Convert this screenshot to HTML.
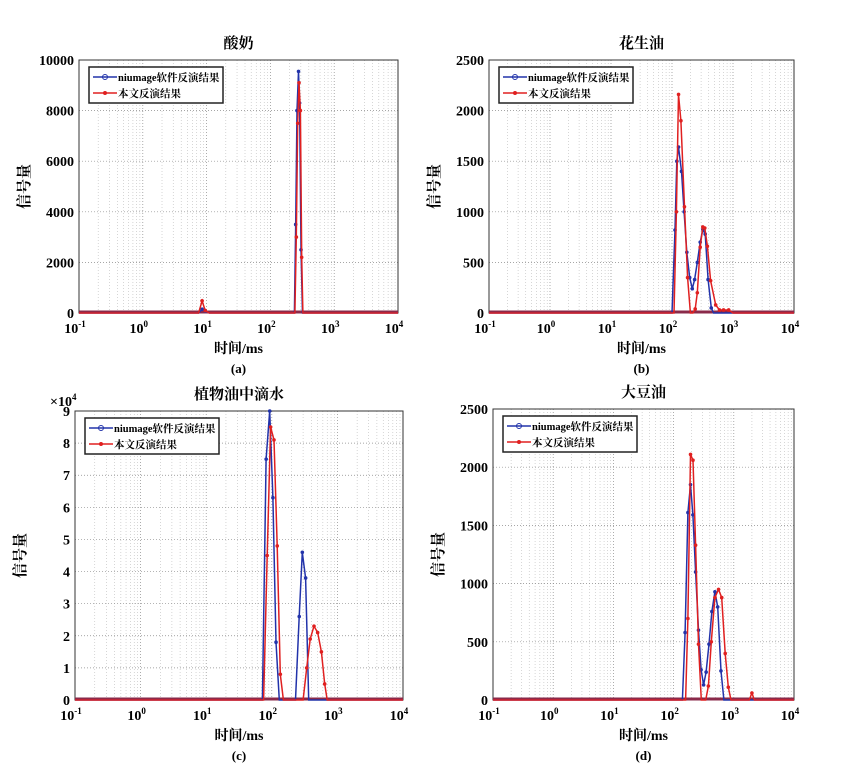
<!DOCTYPE html>
<html><head><meta charset="utf-8"><style>
body{margin:0;background:#fff;}
svg{display:block;font-family:"Liberation Serif","Noto Serif CJK SC",serif;}
</style></head><body>
<svg id="fig" width="850" height="773" xmlns="http://www.w3.org/2000/svg"></svg>
<script>
// ---- data: [time ms, signal] ----
const aBlueT=[0.1,7.5,8.5,9.5,11,238,249,261,276,287,302,318,10000];
const aBlueV=[0,0,150,80,0,0,3500,8000,9550,8300,2500,0,0];
const aRedT=[0.1,7.5,8.5,9.5,11,242,255,268,281,295,309,323,10000];
const aRedV=[0,0,480,100,0,0,3000,7500,9100,8000,2200,0,0];
const bBlueT=[0.1,100,112,120,128,143,158,175,195,215,235,260,290,320,350,390,440,480,10000];
const bBlueV=[0,0,820,1500,1640,1400,1000,600,350,240,330,500,700,825,780,330,50,0,0];
const bRedT=[0.1,108,118,128,140,160,180,200,220,240,260,290,320,345,380,430,520,600,700,850,1000,10000];
const bRedV=[0,0,1000,2160,1900,1050,350,0,0,40,200,650,850,840,660,320,80,30,30,30,0,0];
const cBlueT=[0.1,72,82,93,104,116,130,230,262,292,328,365,10000];
const cBlueV=[0,0,7.5,9.0,6.3,1.8,0,0,2.6,4.6,3.8,0,0];
const cRedT=[0.1,75,85,96,108,121,135,150,300,340,385,440,500,570,640,700,10000];
const cRedV=[0,0,4.5,8.5,8.1,4.8,0.8,0,0,1.0,1.9,2.3,2.1,1.5,0.5,0,0];
const dBlueT=[0.1,140,155,173,191,209,232,259,286,315,347,387,432,486,540,612,684,10000];
const dBlueV=[0,0,580,1610,1850,1590,1100,600,260,130,240,480,760,930,800,250,0,0];
const dRedT=[0.1,158,173,191,210,232,259,288,342,378,423,486,558,630,720,810,900,1800,2000,2200,10000];
const dRedV=[0,0,700,2110,2060,1330,480,0,0,120,500,880,950,880,400,110,0,0,60,0,0];
const yTicksA=[0,2000,4000,6000,8000,10000];
const yTicksB=[0,500,1000,1500,2000,2500];
const yTicksC=[0,1,2,3,4,5,6,7,8,9];
const xExp=[-1,0,1,2,3,4];

const NS="http://www.w3.org/2000/svg";
const svg=document.getElementById('fig');
function mk(tag,attrs,parent){const e=document.createElementNS(NS,tag);for(const k in attrs)e.setAttribute(k,attrs[k]);(parent||svg).appendChild(e);return e;}

function panel(cfg){
  const g=mk('g',{});
  
  
  const {x0,x1,y0,y1,ymax}=cfg;
  const X=t=>x0+(Math.log10(t)+1)/5*(x1-x0);
  const Y=v=>y1-v/ymax*(y1-y0);
  for(let d=-1;d<4;d++)for(let m=2;m<10;m++){const x=X(m*Math.pow(10,d));
    const l=mk('line',{x1:x,x2:x,y1:y0,y2:y1,stroke:'#bbb','stroke-width':0.6,'stroke-dasharray':'1,2'},g);
    }
  xExp.forEach(e=>{const x=X(Math.pow(10,e));
    const l=mk('line',{x1:x,x2:x,y1:y0,y2:y1,stroke:'#888','stroke-width':0.7,'stroke-dasharray':'1,2'},g);
    
    const t=mk('text',{x:x-4,y:y1+20,'font-size':14,'font-weight':'bold','text-anchor':'middle'},g);
    t.textContent='10';
    
    const s=mk('tspan',{dy:-6,'font-size':9},t);s.textContent=String(e);});
  cfg.yt.forEach(v=>{const y=Y(v);
    const l=mk('line',{x1:x0,x2:x1,y1:y,y2:y,stroke:'#888','stroke-width':0.7,'stroke-dasharray':'1,2'},g);
    
    const t=mk('text',{x:x0-5,y:y+5,'font-size':14,'font-weight':'bold','text-anchor':'end'},g);
    t.textContent=String(v);
    });
  const box=mk('rect',{x:x0,y:y0,width:x1-x0,height:y1-y0,fill:'none',stroke:'#333','stroke-width':1},g);
  
  const base=mk('line',{x1:x0,x2:x1,y1:y1-1,y2:y1-1,stroke:'#8a2a4a','stroke-width':3},g);
  
  [[cfg.bt,cfg.bv,'#2233aa','niumage-series'],[cfg.rt,cfg.rv,'#e02020','this-paper-series']].forEach(([T,V,c,n])=>{
    const d=T.map((t,i)=>(i?'L':'M')+X(t).toFixed(1)+','+Y(V[i]).toFixed(1)).join('');
    const p=mk('path',{d:d,fill:'none',stroke:c,'stroke-width':1.5},g);
    
    T.forEach((t,i)=>{if(V[i]>0){const m=mk('circle',{cx:X(t),cy:Y(V[i]),r:1.8,fill:c},g);
      }});
  });
  const lx=x0+10,ly=y0+7;
  const lg=mk('g',{},g);
  mk('rect',{x:lx,y:ly,width:134,height:36,fill:'#fff',stroke:'#222','stroke-width':1.5},lg);
  mk('line',{x1:lx+4,x2:lx+28,y1:ly+10,y2:ly+10,stroke:'#2233aa','stroke-width':1.5},lg);
  mk('circle',{cx:lx+16,cy:ly+10,r:2.5,fill:'none',stroke:'#2233aa'},lg);
  mk('line',{x1:lx+4,x2:lx+28,y1:ly+26,y2:ly+26,stroke:'#e02020','stroke-width':1.5},lg);
  mk('circle',{cx:lx+16,cy:ly+26,r:2,fill:'#e02020'},lg);
  const t1=mk('text',{x:lx+29,y:ly+14,'font-size':10.5,'font-weight':'bold'},lg);t1.textContent='niumage软件反演结果';
  
  const t2=mk('text',{x:lx+29,y:ly+30,'font-size':10.5,'font-weight':'bold'},lg);t2.textContent='本文反演结果';
  
  const tt=mk('text',{x:(x0+x1)/2,y:y0-12,'font-size':15,'font-weight':'bold','text-anchor':'middle'},g);tt.textContent=cfg.title;
  
  const xl=mk('text',{x:(x0+x1)/2,y:y1+40,'font-size':14,'font-weight':'bold','text-anchor':'middle'},g);xl.textContent='时间/ms';
  
  const cl=mk('text',{x:(x0+x1)/2,y:y1+60,'font-size':13,'font-weight':'bold','text-anchor':'middle'},g);cl.textContent=cfg.cap;
  
  const yx=x0-50,yy=(y0+y1)/2;
  const yl=mk('text',{x:yx,y:yy,'font-size':15,'font-weight':'bold','text-anchor':'middle',transform:`rotate(-90 ${yx} ${yy})`},g);yl.textContent='信号量';
  
}
panel({name:'panel-a-yogurt',title:'酸奶',cap:'(a)',x0:79,x1:398,y0:60,y1:313,ymax:10000,yt:yTicksA,bt:aBlueT,bv:aBlueV,rt:aRedT,rv:aRedV});
panel({name:'panel-b-peanut-oil',title:'花生油',cap:'(b)',x0:489,x1:794,y0:60,y1:313,ymax:2500,yt:yTicksB,bt:bBlueT,bv:bBlueV,rt:bRedT,rv:bRedV});
panel({name:'panel-c-water-in-oil',title:'植物油中滴水',cap:'(c)',x0:75,x1:403,y0:411,y1:700,ymax:9,yt:yTicksC,bt:cBlueT,bv:cBlueV,rt:cRedT,rv:cRedV});
panel({name:'panel-d-soybean-oil',title:'大豆油',cap:'(d)',x0:493,x1:794,y0:409,y1:700,ymax:2500,yt:yTicksB,bt:dBlueT,bv:dBlueV,rt:dRedT,rv:dRedV});
const sc=mk('text',{x:50,y:406,'font-size':14,'font-weight':'bold'});
sc.textContent='×10';


const sp=mk('tspan',{dy:-6,'font-size':9},sc);sp.textContent='4';
</script>
</body></html>
